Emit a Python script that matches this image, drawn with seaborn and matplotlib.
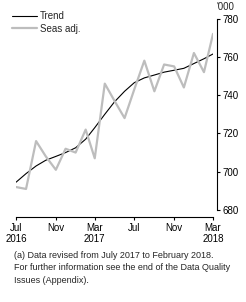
import matplotlib
matplotlib.use("Agg")
import matplotlib.pyplot as plt
import pandas as pd
import seaborn as sns

# monthly data Jul 2016 - Mar 2018 ('000)
months = pd.date_range("2016-07-01", "2018-03-01", freq="MS")
trend = [694.5, 699, 703, 706, 708, 710, 712.5, 717, 723, 730, 736.5,
         742, 746.5, 749, 750.5, 752, 753, 754, 756.5, 759, 761.5]
seas_adj = [692, 691, 716, 708, 701, 712, 710, 722, 707, 746, 737,
            728, 743, 758, 742, 756, 755, 744, 762, 752, 772]

tick_dates = pd.to_datetime(["2016-07-01", "2016-11-01", "2017-03-01",
                             "2017-07-01", "2017-11-01", "2018-03-01"])
tick_labels = ["Jul\n2016", "Nov", "Mar\n2017", "Jul", "Nov", "Mar\n2018"]
y_ticks = [680, 700, 720, 740, 760, 780]

sns.set_theme(style="ticks")
plt.rcParams["font.family"] = ["Liberation Sans", "DejaVu Sans"]
fs = 7

df = pd.DataFrame({"month": months, "Trend": trend, "Seas adj.": seas_adj})

fig = plt.figure(figsize=(2.46, 3.02), dpi=100)
ax = fig.add_axes([0.065, 0.3046, 0.801, 0.634])

sns.lineplot(data=df, x="month", y="Trend", ax=ax, color="black",
             linewidth=0.8, label="Trend")
sns.lineplot(data=df, x="month", y="Seas adj.", ax=ax, color="#bdbdbd",
             linewidth=1.6, label="Seas adj.")

ax.yaxis.tick_right()
ax.set_xlim(months[0], months[-1])
ax.set_ylim(680, 780)
ax.set_xticks(tick_dates)
ax.set_xticklabels(tick_labels, linespacing=1.1)
ax.set_yticks(y_ticks)
ax.set_yticklabels([str(v) for v in y_ticks])
ax.set_xlabel("")
ax.set_ylabel("")

ax.spines["left"].set_visible(False)
ax.spines["top"].set_visible(False)
ax.spines["right"].set_position(("outward", 3))
ax.spines["bottom"].set_position(("outward", 5))
for s in ["right", "bottom"]:
    ax.spines[s].set_linewidth(0.8)
    ax.spines[s].set_color("black")
ax.tick_params(axis="both", length=2.5, width=0.8, pad=1.5, colors="black",
               labelsize=fs)

ax.text(1.02, 1.035, "'000", transform=ax.transAxes, fontsize=fs,
        ha="left", va="bottom")

leg = ax.legend(loc="upper left", bbox_to_anchor=(-0.04, 1.06), frameon=False,
                fontsize=fs, handlelength=2.6, handletextpad=0.3,
                labelspacing=0.3, borderaxespad=0)

fig.text(0.055, 0.168,
         "(a) Data revised from July 2017 to February 2018.\n"
         "For further information see the end of the Data Quality\n"
         "Issues (Appendix).",
         fontsize=6.5, ha="left", va="top", linespacing=1.45)

fig.savefig("out.png", dpi=100)
